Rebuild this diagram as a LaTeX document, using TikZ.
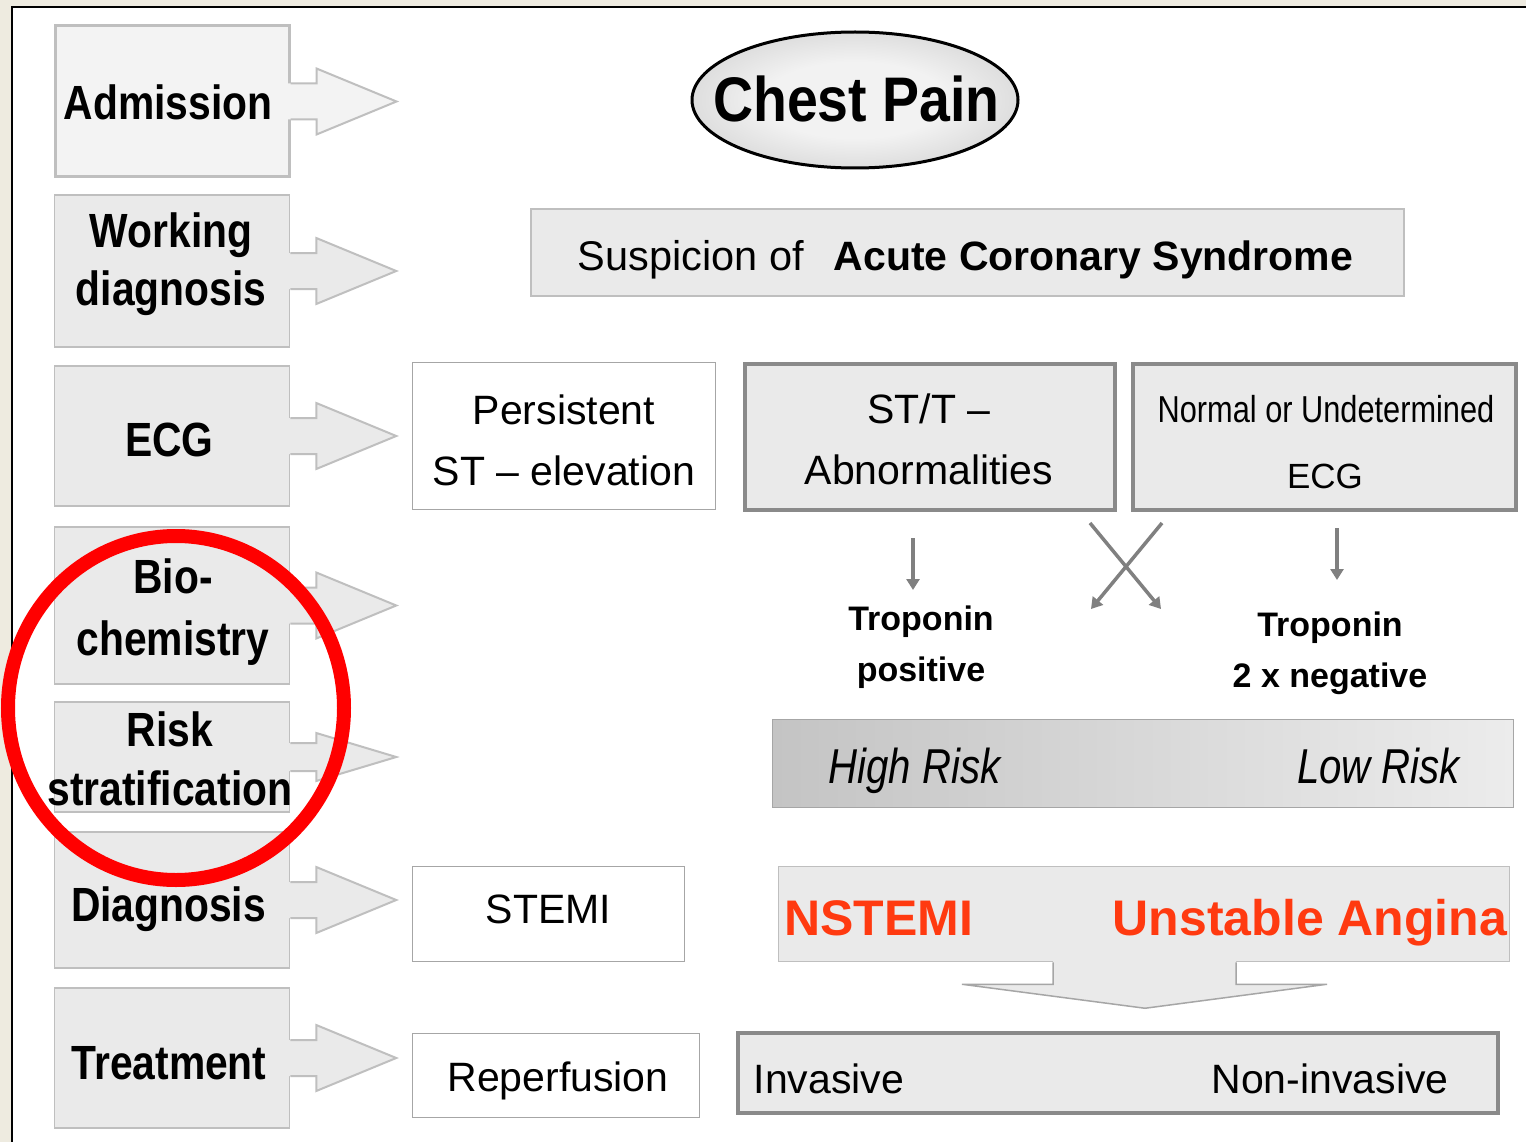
\documentclass[tikz,border=0pt]{standalone}
\usepackage{fontspec}
\setmainfont{Liberation Sans}
\newfontfamily\nbold[FakeStretch=0.85]{Liberation Sans}
\newfontfamily\cpfont[FakeStretch=0.88]{Liberation Sans}
\newfontfamily\nreg[FakeStretch=0.82]{Liberation Sans}
\usetikzlibrary{shapes.geometric,arrows.meta,calc}
\definecolor{beige}{HTML}{EEEBE0}
\definecolor{boxfill}{HTML}{EAEAEA}
\definecolor{admfill}{HTML}{F3F3F3}
\definecolor{lline}{HTML}{BFBFBF}
\definecolor{dline}{HTML}{8A8A8A}
\definecolor{wline}{HTML}{A6A6A6}
\definecolor{arrgray}{HTML}{808080}
\definecolor{riskL}{HTML}{C4C4C4}
\definecolor{riskR}{HTML}{ECECEC}
\definecolor{orred}{HTML}{FF3A10}
\definecolor{ellout}{HTML}{B0B0B0}
\definecolor{ellin}{HTML}{F2F2F2}
\pgfdeclareradialshading{ellshade}{\pgfpoint{0bp}{0bp}}{color(0bp)=(ellin); color(14bp)=(ellin); color(50bp)=(ellout); color(60bp)=(ellout)}
\newcommand\blockarr[4]{%
 \fill[#4] ($(#1.east)+(-3,-#2)$) -- ($(#1.east)+(26,-#2)$) -- ($(#1.east)+(26,-#3)$) -- ($(#1.east)+(106,0)$) -- ($(#1.east)+(26,#3)$) -- ($(#1.east)+(26,#2)$) -- ($(#1.east)+(-3,#2)$) -- cycle;
 \draw[lline, line width=2pt, line join=miter] ($(#1.east)+(0,-#2)$) -- ($(#1.east)+(26,-#2)$) -- ($(#1.east)+(26,-#3)$) -- ($(#1.east)+(106,0)$) -- ($(#1.east)+(26,#3)$) -- ($(#1.east)+(26,#2)$) -- ($(#1.east)+(0,#2)$);
}
\begin{document}
\begin{tikzpicture}[x=1pt,y=-1pt,
 lbox/.style={draw=lline, fill=boxfill, line width=1.5pt, inner sep=0pt},
 wbox/.style={draw=wline, fill=white, line width=1.5pt, inner sep=0pt},
 gbox/.style={draw=lline, fill=boxfill, line width=1.5pt, inner sep=0pt},
 tbox/.style={draw=dline, fill=boxfill, line width=4pt, inner sep=0pt},
 ltext/.style={font=\nbold\bfseries\fontsize{48}{58}\selectfont, align=center, inner sep=0pt},
 rtext/.style={font=\fontsize{41}{61}\selectfont, align=center, inner sep=0pt},
 itext/.style={font=\nreg\itshape\fontsize{49}{50}\selectfont, inner sep=0pt},
 otext/.style={font=\bfseries\fontsize{50}{50}\selectfont, text=orred, inner sep=0pt},
 ttext/.style={font=\bfseries\fontsize{34}{51}\selectfont, align=center, inner sep=0pt},
 garrow/.style={draw=arrgray, line width=4pt, -{Triangle[length=11pt,width=13pt]}}
]
\useasboundingbox (0,0) rectangle (1526,1142);
% frame
\fill[beige] (0,0) rectangle (1526,1142);
\fill[white] (12,7) rectangle (1526,1142);
\draw[black, line width=2.5pt] (12,1142) -- (12,7) -- (1526,7);

% left column boxes
\node[lbox, fill=admfill, line width=3pt, minimum width=234pt, minimum height=151pt] (adm) at (172,101.5) {};
\node[lbox, minimum width=235pt, minimum height=152pt] (work) at (172,271) {};
\node[lbox, minimum width=235pt, minimum height=140pt] (ecg) at (172,436) {};
\node[lbox, minimum width=235pt, minimum height=157pt] (bio) at (172,605.5) {};
\node[lbox, minimum width=235pt, minimum height=110pt] (risk) at (172,757) {};
\node[lbox, minimum width=235pt, minimum height=136pt] (diag) at (172,900) {};
\node[lbox, minimum width=235pt, minimum height=140pt] (treat) at (172,1058) {};

\blockarr{adm}{18}{33}{admfill}
\blockarr{work}{18}{33}{boxfill}
\blockarr{ecg}{18}{33}{boxfill}
\blockarr{bio}{18}{33}{boxfill}
\blockarr{risk}{14}{24}{boxfill}
\blockarr{diag}{18}{33}{boxfill}
\blockarr{treat}{18}{33}{boxfill}

\node[ltext, anchor=base] (admT) at (168,120) {Admission};
\node[ltext] (workT) at (171,264) {Working\\diagnosis};
\node[ltext, anchor=base] (ecgT) at (169.5,456) {ECG};
\node[ltext, font=\nbold\bfseries\fontsize{48}{62}\selectfont] (bioT) at (173,612.5) {Bio-\\chemistry};
\node[ltext, font=\nbold\bfseries\fontsize{48}{59}\selectfont] (riskT) at (170,759) {Risk\\stratification};
\node[ltext, anchor=base] (diagT) at (168.5,921) {Diagnosis};
\node[ltext, anchor=base] (treatT) at (169,1079) {Treatment};

% chest pain
\node[ellipse, draw=black, line width=3pt, shade, shading=ellshade, minimum width=326pt, minimum height=136pt, inner sep=0pt] (chest) at (855,100) {};
\node[font=\cpfont\bfseries\fontsize{63}{70}\selectfont, anchor=base, inner sep=0pt] (chestT) at (856.5,122) {Chest Pain};

% suspicion
\node[gbox, line width=2pt, minimum width=873pt, minimum height=87pt] (susp) at (967.5,252.5) {};
\node[rtext, font=\fontsize{41.5}{61}\selectfont, anchor=base] (suspT) at (965.5,270) {Suspicion of\hspace{30pt}{\bfseries\fontsize{41}{61}\selectfont Acute Coronary Syndrome}};

% ECG row
\node[wbox, minimum width=303pt, minimum height=147pt] (pers) at (564,436) {};
\node[rtext] (persT) at (564,440) {Persistent\\ST – elevation};
\node[tbox, minimum width=370pt, minimum height=146pt] (stt) at (930,437) {};
\node[rtext] (sttT) at (929,439) {ST/T –\\Abnormalities};
\node[tbox, minimum width=383pt, minimum height=146pt] (norm) at (1324.5,437) {};
\node[inner sep=0pt, font=\nreg\fontsize{37.5}{40}\selectfont, anchor=base] (normT) at (1326,422) {Normal or Undetermined};
\node[inner sep=0pt, font=\fontsize{35}{40}\selectfont, anchor=base] (normE) at (1325,488) {ECG};

% biochemistry arrows
\coordinate (p1s) at (913,538); \coordinate (p1e) at (913,590);
\coordinate (p2s) at (1337,528); \coordinate (p2e) at (1337,580);
\coordinate (x1s) at (1090,523); \coordinate (x1e) at (1161,609);
\coordinate (x2s) at (1162,523); \coordinate (x2e) at (1091,609);
\draw[garrow] (p1s) -- (p1e);
\draw[garrow] (p2s) -- (p2e);
\draw[garrow, line width=3.5pt] (x1s) -- (x1e);
\draw[garrow, line width=3.5pt] (x2s) -- (x2e);
\node[ttext] (trop1) at (921,647) {Troponin\\positive};
\node[ttext] (trop2) at (1330,653) {Troponin\\2 x negative};

% risk bar
\node[draw=wline, line width=1.5pt, left color=riskL, right color=riskR, minimum width=741pt, minimum height=88pt, inner sep=0pt] (riskbar) at (1143,763.5) {};
\node[itext, anchor=base] (highT) at (914.5,783) {High Risk};
\node[itext, anchor=base] (lowT) at (1378.5,783) {Low Risk};

% diagnosis row
\node[wbox, minimum width=272pt, minimum height=95pt] (stemi) at (548.5,914) {};
\node[rtext, anchor=base] (stemiT) at (548.5,923) {STEMI};
\node[gbox, minimum width=731pt, minimum height=95pt] (nst) at (1144,914) {};
\fill[boxfill] ($(nst.south)+(-91,-3)$) -- ($(nst.south)+(-91,22)$) -- ($(nst.south)+(-182,22)$) -- ($(nst.south)+(1,46)$) -- ($(nst.south)+(183,22)$) -- ($(nst.south)+(92,22)$) -- ($(nst.south)+(92,-3)$) -- cycle;
\draw[wline, line width=1.5pt] ($(nst.south)+(-91,0)$) -- ($(nst.south)+(-91,22)$) -- ($(nst.south)+(-182,22)$) -- ($(nst.south)+(1,46)$) -- ($(nst.south)+(183,22)$) -- ($(nst.south)+(92,22)$) -- ($(nst.south)+(92,0)$);
\node[otext, anchor=base] (nstT) at (878.5,935) {NSTEMI};
\node[otext, anchor=base] (uaT) at (1310,935) {Unstable Angina};

% treatment row
\node[wbox, minimum width=287pt, minimum height=84pt] (rep) at (556,1075.5) {};
\node[rtext, anchor=base] (repT) at (558,1091) {Reperfusion};
\node[tbox, minimum width=760pt, minimum height=80pt] (inv) at (1118,1073) {};
\node[rtext, anchor=base] (invT) at (829,1093) {Invasive};
\node[rtext, anchor=base] (ninvT) at (1330,1093) {Non-invasive};

% red highlight circle
\node[ellipse, draw=red, line width=14pt, minimum width=336pt, minimum height=344pt, inner sep=0pt] (hl) at (176,708) {};
\end{tikzpicture}
\end{document}
